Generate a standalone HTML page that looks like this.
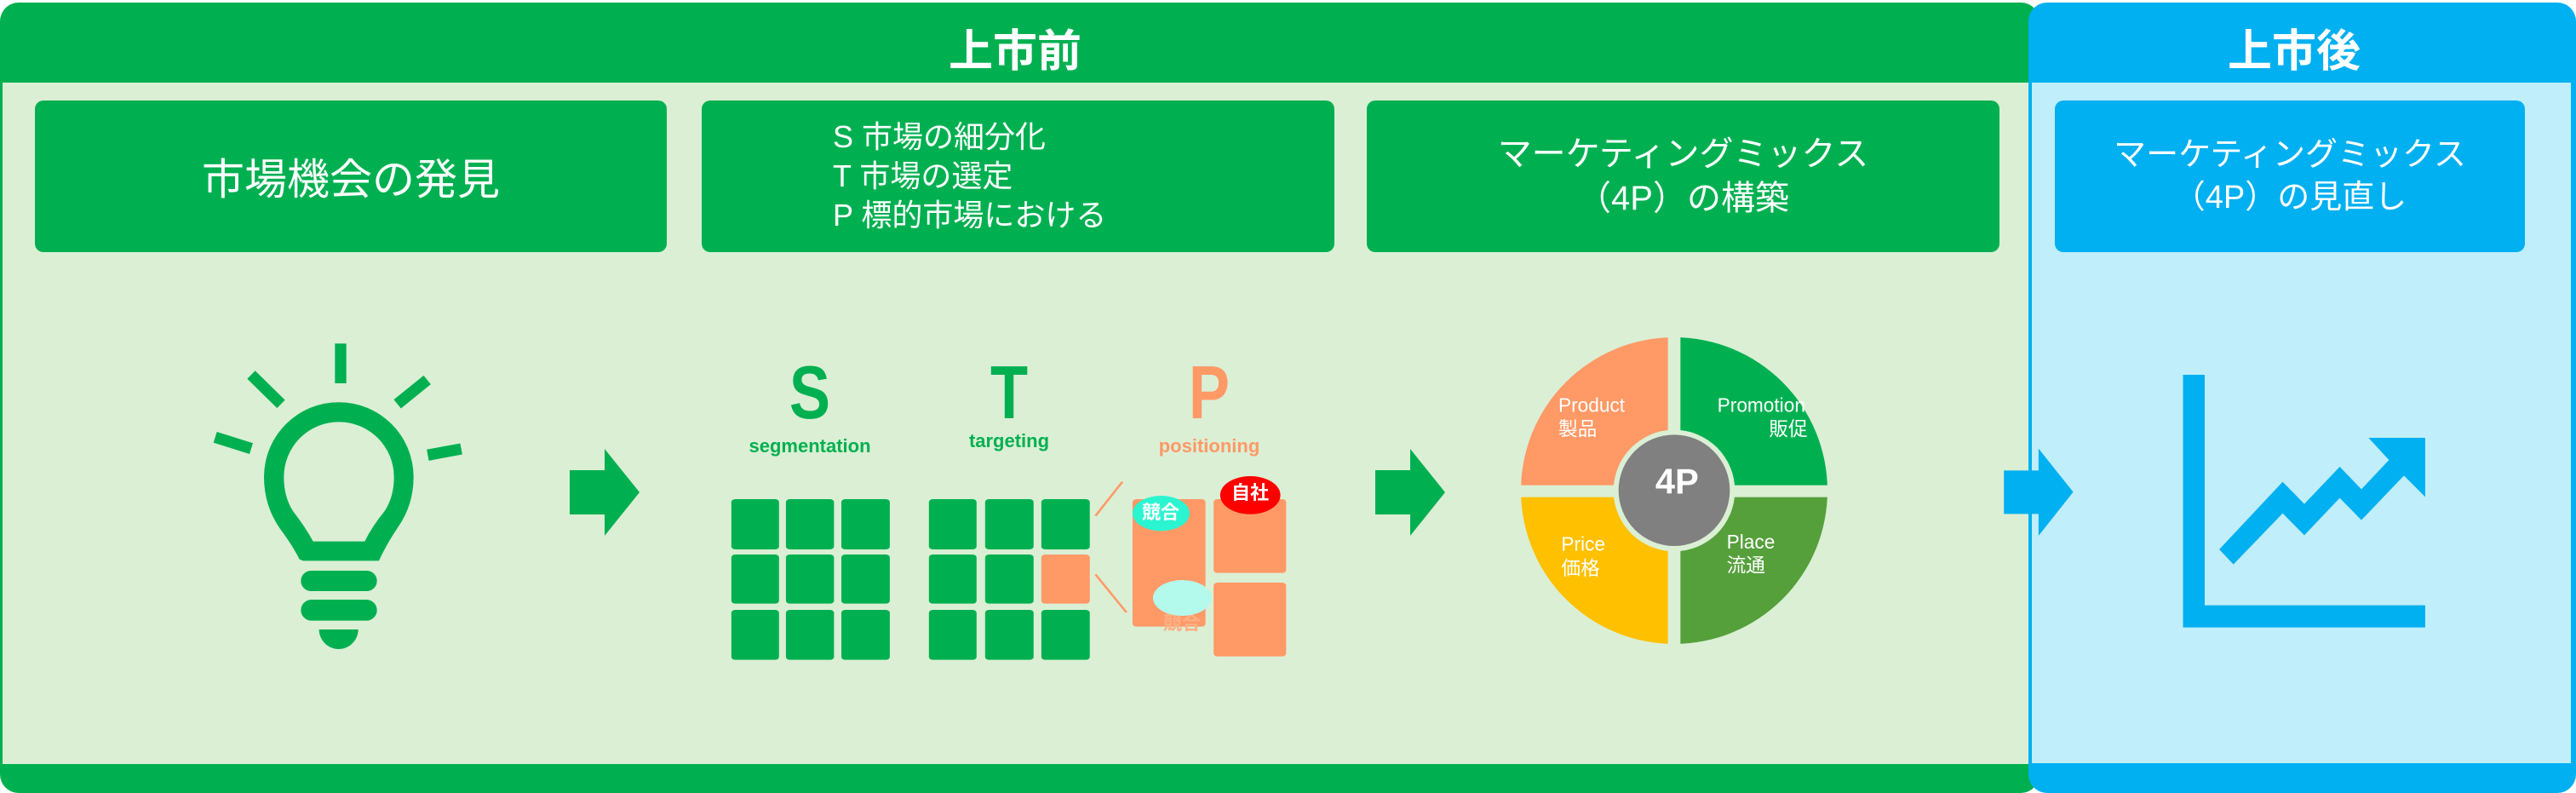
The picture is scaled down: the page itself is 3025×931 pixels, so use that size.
<!DOCTYPE html>
<html><head><meta charset="utf-8">
<style>
html,body{margin:0;padding:0;}
body{width:3025px;height:931px;position:relative;overflow:hidden;background:#fff;font-family:"Liberation Sans","Noto Sans CJK JP",sans-serif;}
.a{position:absolute;}
.box{position:absolute;border-radius:10px;color:#fff;display:flex;align-items:center;justify-content:center;text-align:center;}
.t{position:absolute;white-space:nowrap;transform:translateX(-50%);}
</style></head><body>
<!-- green frame -->
<div class="a" style="left:0;top:3px;width:2395px;height:928px;background:#00b050;border-radius:22px;"></div>
<div class="a" style="left:3px;top:97px;width:2379px;height:800px;background:#dbefd5;"></div>
<!-- blue frame -->
<div class="a" style="left:2382px;top:3px;width:643px;height:928px;background:#00b0f0;border-radius:22px;"></div>
<div class="a" style="left:2386px;top:97px;width:633px;height:799px;background:#c0eefb;"></div>

<div class="t" style="left:1192px;top:18px;font-size:52px;font-weight:bold;color:#fff;">上市前</div>
<div class="t" style="left:2694px;top:18px;font-size:52px;font-weight:bold;color:#fff;">上市後</div>

<div class="box" style="left:41px;top:118px;width:742px;height:178px;background:#00b050;font-size:50px;">市場機会の発見</div>
<div class="box" style="left:824px;top:118px;width:743px;height:178px;background:#00b050;font-size:36px;text-align:left;justify-content:flex-start;">
<div style="margin-left:154px;line-height:46px;">S 市場の細分化<br>T 市場の選定<br>P 標的市場における</div></div>
<div class="box" style="left:1605px;top:118px;width:743px;height:178px;background:#00b050;font-size:40px;line-height:52px;">マーケティングミックス<br>（4P）の構築</div>
<div class="box" style="left:2413px;top:118px;width:552px;height:178px;background:#00b0f0;font-size:38px;line-height:50px;">マーケティングミックス<br>（4P）の見直し</div>

<!-- lightbulb -->
<svg class="a" style="left:200px;top:380px" width="400" height="400" viewBox="0 0 1200 1200">
<g fill="#00b050">
<rect x="580" y="70" width="40" height="140"/>
<path fill-rule="evenodd" d="M468,835 L735,835 Q760,780 800,720 Q857,640 857,540 A263,263 0 0 0 330,540 Q330,640 385,720 Q430,780 455,830 Z M503,767 L685,767 Q710,715 755,660 Q788,610 788,540 A194,194 0 0 0 400,540 Q400,610 432,660 Q475,715 503,767 Z"/>
<rect x="460" y="870" width="268" height="72" rx="36"/>
<rect x="460" y="972" width="268" height="74" rx="37"/>
<path d="M524,1077 L662,1077 A69,69 0 0 1 524,1077 Z"/>
</g>
<g stroke="#00b050" stroke-width="40">
<line x1="285" y1="180" x2="390" y2="283"/>
<line x1="158" y1="400" x2="285" y2="440"/>
<line x1="800" y1="283" x2="905" y2="198"/>
<line x1="907" y1="463" x2="1025" y2="441"/>
</g>
</svg>

<!-- green arrows -->
<svg class="a" style="left:669px;top:527px" width="82" height="102" viewBox="0 0 82 102"><path d="M0,25 H41 V0 L82,51 L41,102 V77 H0 Z" fill="#00b050"/></svg>
<svg class="a" style="left:1615px;top:527px" width="82" height="102" viewBox="0 0 82 102"><path d="M0,25 H41 V0 L82,51 L41,102 V77 H0 Z" fill="#00b050"/></svg>

<!-- STP shapes -->
<svg class="a" style="left:800px;top:380px" width="750" height="420" viewBox="0 0 1568 1260" preserveAspectRatio="none">
<g fill="#00b050">
<rect x="123" y="618" width="117" height="177" rx="10"/><rect x="257" y="618" width="118" height="177" rx="10"/><rect x="393" y="618" width="119" height="177" rx="10"/>
<rect x="123" y="813" width="117" height="173" rx="10"/><rect x="257" y="813" width="118" height="173" rx="10"/><rect x="393" y="813" width="119" height="173" rx="10"/>
<rect x="123" y="1008" width="117" height="176" rx="10"/><rect x="257" y="1008" width="118" height="176" rx="10"/><rect x="393" y="1008" width="119" height="176" rx="10"/>
<rect x="608" y="618" width="117" height="177" rx="10"/><rect x="746" y="618" width="119" height="177" rx="10"/><rect x="884" y="618" width="119" height="177" rx="10"/>
<rect x="608" y="813" width="117" height="173" rx="10"/><rect x="746" y="813" width="119" height="173" rx="10"/>
<rect x="608" y="1008" width="117" height="176" rx="10"/><rect x="746" y="1008" width="119" height="176" rx="10"/><rect x="884" y="1008" width="119" height="176" rx="10"/>
</g>
<g fill="#ff9966">
<rect x="884" y="813" width="119" height="173" rx="10"/>
<rect x="1108" y="618" width="179" height="449" rx="10"/>
<rect x="1307" y="618" width="178" height="260" rx="10"/>
<rect x="1307" y="912" width="178" height="260" rx="10"/>
</g>
<g stroke="#ff9966" stroke-width="6">
<line x1="1017" y1="677" x2="1083" y2="557"/>
<line x1="1017" y1="883" x2="1093" y2="1017"/>
</g>
</svg>
<div class="t" style="left:1388px;top:714px;font-size:22px;font-weight:bold;color:#ffb084;">競合</div>
<svg class="a" style="left:800px;top:380px" width="750" height="420" viewBox="0 0 1568 1260" preserveAspectRatio="none">
<ellipse cx="1178" cy="668" rx="70" ry="62" fill="#2af5d0"/>
<ellipse cx="1397" cy="604" rx="74" ry="67" fill="#ff0000"/>
<ellipse cx="1230" cy="966" rx="72" ry="63" fill="#b3f9ec"/>
</svg>
<div class="t" style="left:1363px;top:584px;font-size:22px;font-weight:bold;color:#fff;">競合</div>
<div class="t" style="left:1468px;top:561px;font-size:22px;font-weight:bold;color:#fff;">自社</div>

<div class="t" style="left:951px;top:410px;font-size:88px;font-weight:bold;color:#00b050;transform:translateX(-50%) scaleX(0.82);">S</div>
<div class="t" style="left:1185px;top:410px;font-size:88px;font-weight:bold;color:#00b050;transform:translateX(-50%) scaleX(0.82);">T</div>
<div class="t" style="left:1420px;top:410px;font-size:88px;font-weight:bold;color:#ff9966;transform:translateX(-50%) scaleX(0.82);">P</div>
<div class="t" style="left:951px;top:511px;font-size:22px;font-weight:bold;color:#00b050;">segmentation</div>
<div class="t" style="left:1185px;top:505px;font-size:22px;font-weight:bold;color:#00b050;">targeting</div>
<div class="t" style="left:1420px;top:511px;font-size:22px;font-weight:bold;color:#ff9966;">positioning</div>

<!-- 4P -->
<svg class="a" style="left:1750px;top:370px" width="500" height="420" viewBox="0 0 1500 1260">
<path d="M648,618 L648,78 A540,540 0 0 0 108,618 Z" fill="#ff9966"/>
<path d="M648,618 L648,78 A540,540 0 0 1 1188,618 Z" fill="#00b050"/>
<path d="M648,618 L108,618 A540,540 0 0 0 648,1158 Z" fill="#ffc000"/>
<path d="M648,618 L1188,618 A540,540 0 0 1 648,1158 Z" fill="#55a03b"/>
<rect x="626" y="40" width="44" height="1160" fill="#dbefd5"/>
<rect x="80" y="599" width="1140" height="42" fill="#dbefd5"/>
<circle cx="648" cy="618" r="214" fill="#dbefd5"/>
<circle cx="648" cy="617" r="196" fill="#808080"/>
<g fill="#fff" font-family="Liberation Sans, Noto Sans CJK JP, sans-serif" font-size="68">
<text x="240" y="340">Product</text><text x="240" y="425">製品</text>
<text x="800" y="340">Promotion</text><text x="1118" y="425" text-anchor="end">販促</text>
<text x="250" y="830">Price</text><text x="250" y="915">価格</text>
<text x="833" y="822">Place</text><text x="833" y="905">流通</text>
<text x="658" y="628" font-size="125" font-weight="bold" text-anchor="middle">4P</text>
</g>
</svg>

<!-- chart + blue arrow -->
<svg class="a" style="left:2300px;top:420px" width="725" height="511" viewBox="0 0 1568 1533" preserveAspectRatio="none">
<g fill="#00b0f0">
<path d="M115,397 H203 V320 L291,473 L203,627 V550 H115 Z"/>
<path d="M570,60 H625 V872 H1185 V950 H570 Z"/>
<path d="M662,675 L823,437 L878,515 L968,384 L1023,463 L1093,360 L1041,282 L1185,282 L1185,490 L1131,415 L1023,572 L968,494 L878,625 L823,548 L698,728 Z"/>
</g>
</svg>
</body></html>
